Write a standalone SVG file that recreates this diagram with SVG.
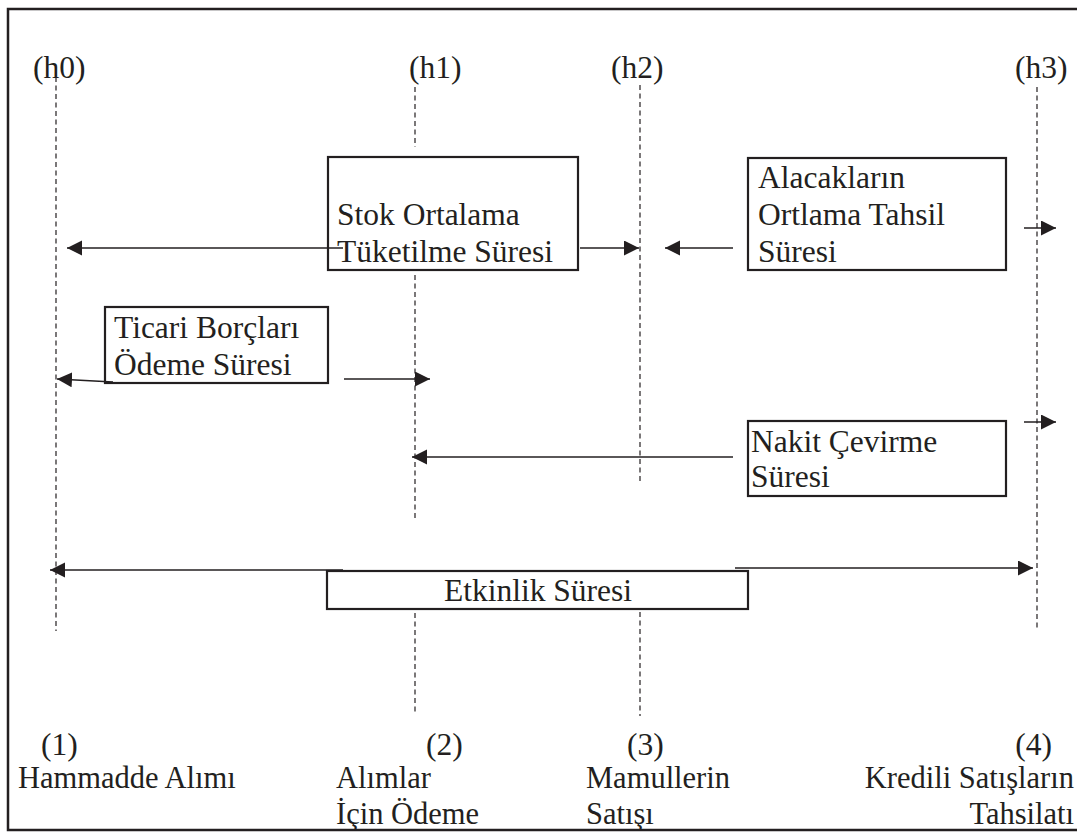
<svg xmlns="http://www.w3.org/2000/svg" width="1077" height="832" viewBox="0 0 1077 832">
<defs>
<style>
.t{font-family:"Liberation Serif","Times New Roman",serif;font-size:31.5px;fill:#231f20}
.b{font-size:30.5px}
.box{fill:#fff;stroke:#231f20;stroke-width:2.2}
.dash{stroke:#231f20;stroke-width:1.2;stroke-dasharray:5 3.5;fill:none}
.con{stroke:#231f20;stroke-width:1.5;fill:none;marker-end:url(#ah)}
</style>
<marker id="ah" markerUnits="userSpaceOnUse" markerWidth="16" markerHeight="16" refX="15" refY="7.5" orient="auto" viewBox="0 0 16 16">
<path d="M0,0 L15,7.5 L0,15 z" fill="#231f20"/>
</marker>
</defs>
<rect width="1077" height="832" fill="#fff"/>
<rect x="8" y="9" width="1080" height="821" fill="none" stroke="#231f20" stroke-width="2.5"/>

<g id="timelines">
<line class="dash" x1="56" y1="77" x2="56" y2="631"/>
<line class="dash" x1="415" y1="87" x2="415" y2="147"/>
<line class="dash" x1="415" y1="275" x2="415" y2="520"/>
<line class="dash" x1="415" y1="613" x2="415" y2="713"/>
<line class="dash" x1="640" y1="85" x2="640" y2="483"/>
<line class="dash" x1="640" y1="612" x2="640" y2="716"/>
<line class="dash" x1="1037" y1="87" x2="1037" y2="628"/>
</g>

<g id="h-labels">
<text class="t" x="33" y="78">(h0)</text>
<text class="t" x="409" y="78">(h1)</text>
<text class="t" x="611" y="78">(h2)</text>
<text class="t" x="1015" y="78">(h3)</text>
</g>

<g id="stok">
<rect class="box" x="328" y="157" width="250" height="113"/>
<text class="t" x="337" y="225">Stok Ortalama</text>
<text class="t" x="337" y="262">Tüketilme Süresi</text>
</g>

<g id="alacak">
<rect class="box" x="748" y="158" width="258" height="112"/>
<text class="t" x="758" y="188">Alacakların</text>
<text class="t" x="758" y="225">Ortlama Tahsil</text>
<text class="t" x="758" y="262">Süresi</text>
</g>

<g id="ticari">
<rect class="box" x="105" y="307" width="223" height="76"/>
<text class="t" x="114" y="338">Ticari Borçları</text>
<text class="t" x="114" y="375">Ödeme Süresi</text>
</g>

<g id="nakit">
<rect class="box" x="748" y="421" width="258" height="75"/>
<text class="t" x="751" y="452">Nakit Çevirme</text>
<text class="t" x="751" y="487">Süresi</text>
</g>

<g id="etkinlik">
<rect class="box" x="327" y="571" width="421" height="38"/>
<text class="t" x="538" y="601" text-anchor="middle">Etkinlik Süresi</text>
</g>

<g id="connectors">
<line class="con" x1="343" y1="248" x2="67" y2="248"/>
<line class="con" x1="580" y1="248" x2="639" y2="248"/>
<line class="con" x1="733" y1="248" x2="665" y2="248"/>
<line class="con" x1="1024" y1="228" x2="1056" y2="228"/>
<line class="con" x1="113" y1="382" x2="57" y2="379"/>
<line class="con" x1="344" y1="379" x2="430" y2="379"/>
<line class="con" x1="733" y1="457" x2="412" y2="457"/>
<line class="con" x1="1024" y1="422" x2="1056" y2="422"/>
<line class="con" x1="343" y1="570" x2="50" y2="570"/>
<line class="con" x1="735" y1="568" x2="1033" y2="568"/>
</g>

<g id="events">
<text class="t" x="41" y="755">(1)</text>
<text class="t b" x="18" y="788">Hammadde Alımı</text>
<text class="t" x="426" y="755">(2)</text>
<text class="t b" x="336" y="788">Alımlar</text>
<text class="t b" x="336" y="824">İçin Ödeme</text>
<text class="t" x="627" y="755">(3)</text>
<text class="t b" x="586" y="788">Mamullerin</text>
<text class="t b" x="586" y="824">Satışı</text>
<text class="t" x="1052" y="755" text-anchor="end">(4)</text>
<text class="t b" x="1074" y="788" text-anchor="end">Kredili Satışların</text>
<text class="t b" x="1074" y="824" text-anchor="end">Tahsilatı</text>
</g>
</svg>
